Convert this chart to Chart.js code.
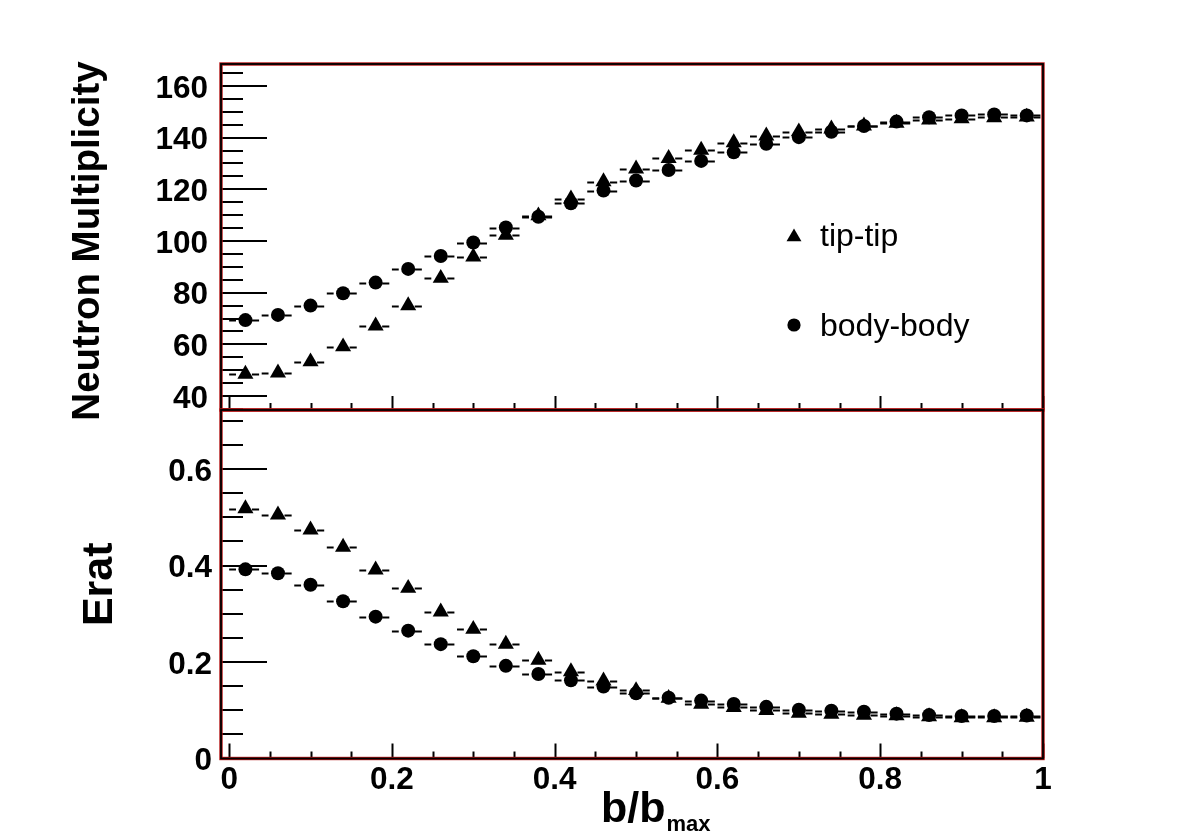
<!DOCTYPE html>
<html><head><meta charset="utf-8">
<script src="https://cdn.jsdelivr.net/npm/chart.js@4.4.0/dist/chart.umd.min.js"></script>
<style>
html,body{margin:0;padding:0;background:#fff;overflow:hidden}
#wrap{position:relative;width:1181px;height:840px;background:#fff}
canvas{position:absolute;left:0;top:0}
</style></head>
<body><div id="wrap"><canvas id="cTop" width="1181" height="840"></canvas><canvas id="cBot" width="1181" height="840"></canvas></div>
<script>
// ---------------- data ----------------
const bOverBmax = [0.02, 0.06, 0.10, 0.14, 0.18, 0.22, 0.26, 0.30, 0.34, 0.38, 0.42, 0.46, 0.50,
                   0.54, 0.58, 0.62, 0.66, 0.70, 0.74, 0.78, 0.82, 0.86, 0.90, 0.94, 0.98];
const binHalfWidth = 0.02;
const tipNeutron  = [48.5, 49.0, 53.3, 59.1, 67.2, 75.0, 85.6, 93.9, 102.3, 109.8, 116.3, 123.0, 127.9,
                     132.0, 135.2, 138.1, 140.7, 142.3, 143.4, 144.6, 145.6, 146.9, 147.4, 147.8, 148.0];
const bodyNeutron = [69.4, 71.4, 75.0, 79.8, 83.9, 89.2, 94.2, 99.4, 105.2, 109.4, 114.6, 119.5, 123.4,
                     127.5, 131.0, 134.3, 137.6, 140.2, 142.3, 144.5, 146.2, 147.9, 148.6, 149.0, 148.6];
const tipErat  = [0.518, 0.505, 0.474, 0.438, 0.391, 0.353, 0.304, 0.268, 0.237, 0.204, 0.180, 0.161, 0.141,
                  0.125, 0.113, 0.106, 0.100, 0.094, 0.092, 0.090, 0.089, 0.087, 0.085, 0.085, 0.086];
const bodyErat = [0.392, 0.384, 0.360, 0.326, 0.294, 0.265, 0.237, 0.212, 0.192, 0.175, 0.162, 0.149, 0.135,
                  0.126, 0.120, 0.113, 0.107, 0.101, 0.099, 0.097, 0.093, 0.090, 0.088, 0.088, 0.089];
const seriesLabels = ['tip-tip', 'body-body'];
const xTickValues = [0, 0.2, 0.4, 0.6, 0.8, 1];
const xTickLabels = ['0', '0.2', '0.4', '0.6', '0.8', '1'];
const yTopTickValues = [40, 60, 80, 100, 120, 140, 160];
const yTopTickLabels = ['40', '60', '80', '100', '120', '140', '160'];
const yBotTickValues = [0, 0.2, 0.4, 0.6];
const yBotTickLabels = ['0', '0.2', '0.4', '0.6'];
const titleTop = 'Neutron Multiplicity';
const titleBot = 'Erat';
const titleXMain = 'b/b';
const titleXSub = 'max';

// ---------------- helpers ----------------
const FONT = '"Liberation Sans", Arial, Helvetica, sans-serif';
const pts = (ys) => bOverBmax.map((x, i) => ({x: x, y: ys[i]}));

const rootPlugin = {
  id: 'rootStyle',
  beforeDatasetsDraw(chart) {
    const ctx = chart.ctx, xs = chart.scales.x;
    ctx.save();
    ctx.strokeStyle = '#000';
    ctx.lineWidth = 2;
    chart.data.datasets.forEach((ds, di) => {
      const meta = chart.getDatasetMeta(di);
      meta.data.forEach((el, i) => {
        const xv = ds.data[i].x, y = Math.round(el.y) + 0.5;
        const segs = [[xv - binHalfWidth, xv - binHalfWidth * 0.58],
                      [xv + binHalfWidth * 0.40, xv + binHalfWidth * 0.84]];
        segs.forEach(s => {
          ctx.beginPath();
          ctx.moveTo(xs.getPixelForValue(s[0]), y);
          ctx.lineTo(xs.getPixelForValue(s[1]), y);
          ctx.stroke();
        });
      });
    });
    ctx.restore();
  },
  afterDraw(chart, args, o) {
    const ctx = chart.ctx, ca = chart.chartArea;
    const xs = chart.scales.x, ys = chart.scales.y;
    ctx.save();
    ctx.strokeStyle = '#000';
    ctx.lineWidth = 2;
    const line = (x1, y1, x2, y2) => { ctx.beginPath(); ctx.moveTo(x1, y1); ctx.lineTo(x2, y2); ctx.stroke(); };
    // y ticks (inward from left)
    for (let k = Math.ceil(ys.min / o.yMinorStep - 1e-9); k * o.yMinorStep <= ys.max + 1e-9; k++) {
      const v = k * o.yMinorStep;
      const py = Math.round(ys.getPixelForValue(v));
      const major = o.yMajor.some(m => Math.abs(m - v) < 1e-6);
      line(ca.left, py, ca.left + (major ? 46 : 22), py);
    }
    // x ticks (inward from bottom)
    for (let k = Math.ceil(xs.min / 0.05 - 1e-9); k * 0.05 <= xs.max + 1e-9; k++) {
      const v = k * 0.05;
      const px = Math.round(xs.getPixelForValue(v)) + 0.5;
      const major = xTickValues.some(m => Math.abs(m - v) < 1e-6);
      line(px, ca.bottom, px, ca.bottom - (major ? o.xMajorLen : 7));
    }
    // frame
    ctx.strokeStyle = '#b41818';
    ctx.lineWidth = 3.4;
    ctx.strokeRect(ca.left, ca.top, ca.right - ca.left, ca.bottom - ca.top);
    ctx.strokeStyle = '#000';
    ctx.lineWidth = 1.8;
    ctx.strokeRect(ca.left, ca.top, ca.right - ca.left, ca.bottom - ca.top);
    // rotated y title
    if (o.yTitle) {
      ctx.save();
      ctx.fillStyle = '#000';
      ctx.font = 'bold ' + o.yTitle.size + 'px ' + FONT;
      ctx.textAlign = 'center';
      ctx.textBaseline = 'middle';
      ctx.translate(o.yTitle.x, (ca.top + ca.bottom) / 2 + o.yTitle.dy);
      ctx.rotate(-Math.PI / 2);
      ctx.fillText(o.yTitle.text, 0, 0);
      ctx.restore();
    }
    // legend
    if (o.legend) {
      ctx.font = '32px ' + FONT;
      ctx.textBaseline = 'alphabetic';
      ctx.textAlign = 'left';
      chart.data.datasets.forEach((ds, di) => {
        const L = o.legend[di];
        ctx.fillStyle = '#000';
        Chart.helpers.drawPoint(ctx, {pointStyle: ds.pointStyle, radius: L.r, rotation: 0, borderWidth: 0}, L.mx, L.my);
        ctx.fillStyle = '#000';
        ctx.fillText(ds.label, L.tx, L.ty);
      });
    }
    // x title with subscript
    if (o.xTitle) {
      ctx.fillStyle = '#000';
      ctx.textBaseline = 'alphabetic';
      ctx.textAlign = 'left';
      ctx.font = 'bold 43px ' + FONT;
      const x0 = o.xTitle.x, y0 = o.xTitle.y;
      ctx.fillText(titleXMain, x0, y0);
      const w = ctx.measureText(titleXMain).width;
      ctx.font = 'bold 22px ' + FONT;
      ctx.fillText(titleXSub, x0 + w + 1, y0 + 9);
    }
    ctx.restore();
  }
};

const tickFont = {family: FONT, size: 31.5, weight: 'bold'};
const common = {
  responsive: false,
  animation: false,
  devicePixelRatio: 1,
  events: [],
};

// ---------------- top panel ----------------
new Chart(document.getElementById('cTop'), {
  type: 'scatter',
  data: {
    datasets: [
      {label: seriesLabels[0], data: pts(tipNeutron), pointStyle: 'triangle', pointRadius: 9.3,
       backgroundColor: '#000', borderWidth: 0},
      {label: seriesLabels[1], data: pts(bodyNeutron), pointStyle: 'circle', pointRadius: 7,
       backgroundColor: '#000', borderWidth: 0}
    ]
  },
  plugins: [rootPlugin],
  options: Object.assign({}, common, {
    layout: {padding: {left: 0, top: 64, right: 138, bottom: 0}},
    plugins: {
      legend: {display: false}, tooltip: {enabled: false},
      rootStyle: {
        yMajor: yTopTickValues, yMinorStep: 5, xMajorLen: 14,
        yTitle: {text: titleTop, size: 38.5, x: 88, dy: 4},
        legend: [{mx: 794, my: 237, r: 8.6, tx: 820, ty: 246},
                 {mx: 794, my: 325, r: 6.6, tx: 820, ty: 336}]
      }
    },
    scales: {
      x: {type: 'linear', min: -0.01, max: 1.0,
          ticks: {display: false}, grid: {display: false, drawTicks: false}, border: {display: false},
          afterFit: s => { s.height = 430; }},
      y: {type: 'linear', min: 34.6, max: 168.5,
          afterBuildTicks: s => { s.ticks = yTopTickValues.map(v => ({value: v})); },
          ticks: {font: tickFont, color: '#000', padding: 13, labelOffset: 3, callback: (v, i) => yTopTickLabels[i]},
          grid: {display: false, drawTicks: false}, border: {display: false},
          afterFit: s => { s.width = 221; }}
    }
  })
});

// ---------------- bottom panel ----------------
new Chart(document.getElementById('cBot'), {
  type: 'scatter',
  data: {
    datasets: [
      {label: seriesLabels[0], data: pts(tipErat), pointStyle: 'triangle', pointRadius: 9.3,
       backgroundColor: '#000', borderWidth: 0},
      {label: seriesLabels[1], data: pts(bodyErat), pointStyle: 'circle', pointRadius: 7,
       backgroundColor: '#000', borderWidth: 0}
    ]
  },
  plugins: [rootPlugin],
  options: Object.assign({}, common, {
    layout: {padding: {left: 0, top: 410, right: 138, bottom: 0}},
    plugins: {
      legend: {display: false}, tooltip: {enabled: false},
      rootStyle: {
        yMajor: yBotTickValues, yMinorStep: 0.05, xMajorLen: 15,
        xTitle: {x: 601, y: 822}
      }
    },
    scales: {
      x: {type: 'linear', min: -0.01, max: 1.0,
          afterBuildTicks: s => { s.ticks = xTickValues.map(v => ({value: v})); },
          ticks: {font: tickFont, color: '#000', padding: 3, maxRotation: 0, callback: (v, i) => xTickLabels[i]},
          grid: {display: false, drawTicks: false}, border: {display: false},
          afterFit: s => { s.height = 81.5; }},
      y: {type: 'linear', min: 0, max: 0.7223,
          afterBuildTicks: s => { s.ticks = yBotTickValues.map(v => ({value: v})); },
          ticks: {font: tickFont, color: '#000', padding: 9, labelOffset: 3, callback: (v, i) => yBotTickLabels[i]},
          grid: {display: false, drawTicks: false}, border: {display: false},
          title: {display: true, text: titleBot, color: '#000',
                  font: {family: FONT, size: 43, weight: 'bold', lineHeight: 1}, padding: {top: 79, bottom: 0}},
          afterFit: s => { s.width = 221; }}
    }
  })
});
</script>
</body></html>
